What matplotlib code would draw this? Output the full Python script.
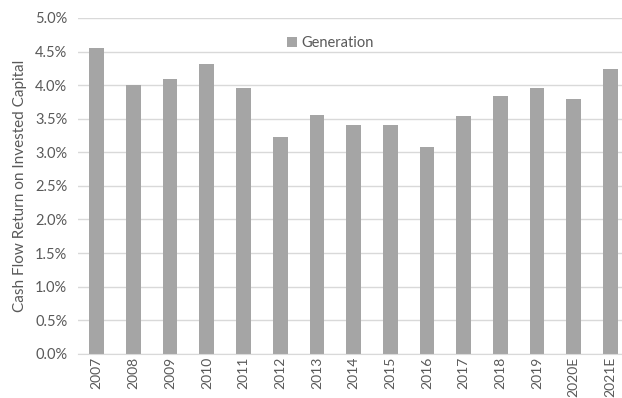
import matplotlib.pyplot as plt
from matplotlib.ticker import PercentFormatter

plt.rcParams['font.family'] = ['Lato', 'DejaVu Sans']

# 发电业务现金流投资回报率
years = ['2007', '2008', '2009', '2010', '2011', '2012', '2013', '2014',
         '2015', '2016', '2017', '2018', '2019', '2020E', '2021E']
cfroi = [4.55, 4.00, 4.09, 4.32, 3.96, 3.23, 3.56, 3.40,
         3.40, 3.08, 3.54, 3.84, 3.95, 3.79, 4.24]

text_color = '#595959'

fig = plt.figure(figsize=(6.22, 3.98), dpi=100)
ax = fig.add_axes((0.126, 0.111, 0.885, 0.844))

ax.bar(years, cfroi, width=0.4, color='#a5a5a5', label='Generation', zorder=2)

ax.set_ylim(0, 5.0)
ax.set_yticks([i * 0.5 for i in range(11)])
ax.yaxis.set_major_formatter(PercentFormatter(decimals=1))
ax.set_xlim(-0.5, len(years) - 0.5)
ax.grid(axis='y', color='#d9d9d9', linewidth=1, zorder=0)

for side in ['top', 'right', 'left']:
    ax.spines[side].set_visible(False)
ax.spines['bottom'].set_color('#d9d9d9')
ax.tick_params(axis='both', length=0, colors=text_color, labelsize=10.5)
ax.tick_params(axis='x', labelrotation=90, pad=2, labelsize=10)
ax.tick_params(axis='y', pad=8)

ax.set_ylabel('Cash Flow Return on Invested Capital', color=text_color,
              fontsize=11, labelpad=6)

ax.legend(loc='center', bbox_to_anchor=(330 / 622, 1 - 43 / 398),
          bbox_transform=fig.transFigure, frameon=False, fontsize=10.5,
          handlelength=0.7, handleheight=0.7, handletextpad=0.3,
          labelcolor=text_color)

fig.savefig('out.png')
